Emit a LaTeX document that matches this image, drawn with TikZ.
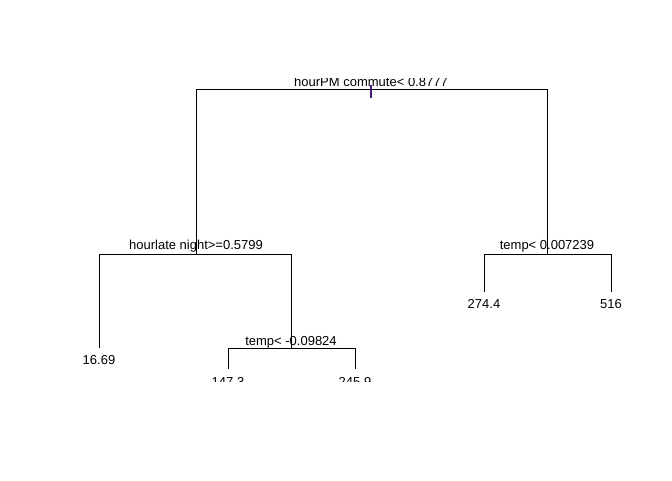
\documentclass[tikz,border=0pt]{standalone}
\usepackage{fontspec}
\setmainfont{Liberation Sans}
\definecolor{tickpurple}{RGB}{70,30,120}
\begin{document}
\begin{tikzpicture}[x=1pt,y=-1pt,
  edge/.style={draw=black,line width=1pt},
  lbl/.style={inner sep=0pt,anchor=base,font=\fontsize{13}{15}\selectfont},
  pt/.style={inner sep=0pt,minimum size=0pt}]
\useasboundingbox[fill=white] (0,0) rectangle (672,480);
\begin{scope}
\clip (0,78.5) rectangle (672,381);
% split points
\coordinate (root) at (371,89);
\coordinate (rootL) at (196,89);
\coordinate (rootR) at (547,89);
\coordinate (n2) at (196,254);
\coordinate (n2L) at (99,254);
\coordinate (n2R) at (291,254);
\coordinate (n3) at (547,254);
\coordinate (n3L) at (484,254);
\coordinate (n3R) at (611,254);
\coordinate (n5) at (291,348);
\coordinate (n5L) at (228,348);
\coordinate (n5R) at (355,348);
\coordinate (l4) at (99,348);
\coordinate (l6) at (484,292);
\coordinate (l7) at (611,292);
\coordinate (l10) at (228,369);
\coordinate (l11) at (355,369);
\coordinate (tickTop) at (371,85);
\coordinate (tickBot) at (371,98);
% tree edges
\draw[edge] (n2) -- (rootL) -- (rootR) -- (n3);
\draw[edge] (l4) -- (n2L) -- (n2R) -- (n5);
\draw[edge] (l6) -- (n3L) -- (n3R) -- (l7);
\draw[edge] (l10) -- (n5L) -- (n5R) -- (l11);
\draw[draw=tickpurple,line width=1.2pt] (tickTop) -- (tickBot);
% split labels
\node[lbl] (t1) at (371,86.5) {hourPM commute< 0.8777};
\node[lbl] (t2) at (196,249.5) {hourlate night>=0.5799};
\node[lbl] (t3) at (547,249.5) {temp< 0.007239};
\node[lbl] (t5) at (291,345) {temp< -0.09824};
% leaf labels
\node[lbl] (v4) at (99,364) {16.69};
\node[lbl] (v6) at (484,308) {274.4};
\node[lbl] (v7) at (611,308) {516};
\node[lbl] (v10) at (228,386) {147.3};
\node[lbl] (v11) at (355,386) {245.9};
\end{scope}
\end{tikzpicture}
\end{document}
